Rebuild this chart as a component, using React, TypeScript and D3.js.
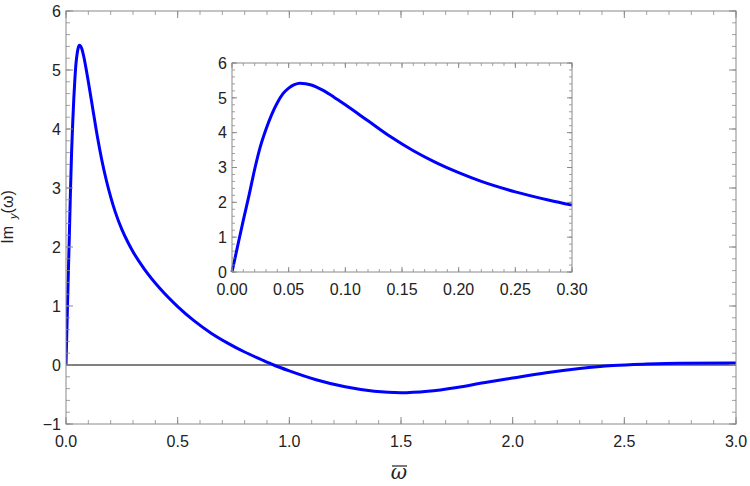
import React from 'react';
import * as d3 from 'd3';

// Im_y(omega) response curve
const omega = [
  0, 0.005, 0.01, 0.015, 0.02, 0.025, 0.03, 0.035, 0.04, 0.045, 0.05, 0.055, 0.06, 0.07,
  0.08, 0.09, 0.1, 0.12, 0.14, 0.16, 0.18, 0.2, 0.22, 0.25, 0.28, 0.3, 0.35, 0.42, 0.5, 0.57,
  0.65, 0.72, 0.8, 0.87, 0.93, 1.0, 1.12, 1.25, 1.38, 1.5, 1.62, 1.75, 1.87, 2.0, 2.15, 2.3,
  2.45, 2.6, 2.75, 3.0,
];
const imY = [
  0, 0.75, 1.49, 2.2, 2.95, 3.6, 4.1, 4.52, 4.86, 5.12, 5.28, 5.38, 5.42, 5.37,
  5.22, 5.02, 4.8, 4.34, 3.88, 3.48, 3.14, 2.85, 2.6, 2.3, 2.06, 1.92, 1.63, 1.3, 0.99, 0.76,
  0.54, 0.38, 0.22, 0.1, 0.0, -0.1, -0.25, -0.37, -0.445, -0.47, -0.445, -0.38, -0.3, -0.22, -0.13, -0.06,
  -0.01, 0.015, 0.03, 0.035,
];

const mainXTicks = [0, 0.5, 1, 1.5, 2, 2.5, 3];
const mainYTicks = [-1, 0, 1, 2, 3, 4, 5, 6];
const insetXTicks = [0, 0.05, 0.1, 0.15, 0.2, 0.25, 0.3];
const insetYTicks = [0, 1, 2, 3, 4, 5, 6];

const FRAME = '#8a8a8a';
const FONT = 'Liberation Sans, Arial, sans-serif';

type Box = { left: number; right: number; top: number; bottom: number };

function Frame({
  x, y, box, xTicks, yTicks, xMinor, yMinor, fmtX, fmtY, major, minor, fontSize,
}: {
  x: d3.ScaleLinear<number, number>; y: d3.ScaleLinear<number, number>; box: Box;
  xTicks: number[]; yTicks: number[]; xMinor: number[]; yMinor: number[];
  fmtX: (v: number) => string; fmtY: (v: number) => string;
  major: number; minor: number; fontSize: number;
}) {
  const { left, right, top, bottom } = box;
  return (
    <g>
      <rect x={left} y={top} width={right - left} height={bottom - top} fill="none" stroke={FRAME} strokeWidth={1} />
      {xMinor.map((v, i) => (
        <g key={'xm' + i} stroke={FRAME} strokeWidth={0.8}>
          <line x1={x(v)} x2={x(v)} y1={bottom} y2={bottom - minor} />
          <line x1={x(v)} x2={x(v)} y1={top} y2={top + minor} />
        </g>
      ))}
      {yMinor.map((v, i) => (
        <g key={'ym' + i} stroke={FRAME} strokeWidth={0.8}>
          <line x1={left} x2={left + minor} y1={y(v)} y2={y(v)} />
          <line x1={right} x2={right - minor} y1={y(v)} y2={y(v)} />
        </g>
      ))}
      {xTicks.map((v, i) => (
        <g key={'x' + i}>
          <line x1={x(v)} x2={x(v)} y1={bottom} y2={bottom - major} stroke={FRAME} />
          <line x1={x(v)} x2={x(v)} y1={top} y2={top + major} stroke={FRAME} />
          <text x={x(v)} y={bottom + fontSize + 7} textAnchor="middle" fontSize={fontSize} fill="#222">
            {fmtX(v)}
          </text>
        </g>
      ))}
      {yTicks.map((v, i) => (
        <g key={'y' + i}>
          <line x1={left} x2={left + major} y1={y(v)} y2={y(v)} stroke={FRAME} />
          <line x1={right} x2={right - major} y1={y(v)} y2={y(v)} stroke={FRAME} />
          <text x={left - 5} y={y(v) + fontSize * 0.36} textAnchor="end" fontSize={fontSize} fill="#222">
            {v < 0 ? '\u2212' + fmtY(-v) : fmtY(v)}
          </text>
        </g>
      ))}
    </g>
  );
}

export default function App() {
  const data = omega.map((w, i) => [w, imY[i]] as [number, number]);

  // main panel
  const main: Box = { left: 66, right: 736, top: 11, bottom: 424 };
  const x = d3.scaleLinear().domain([0, 3]).range([main.left, main.right]);
  const y = d3.scaleLinear().domain([-1, 6]).range([main.bottom, main.top]);
  const line = d3.line<[number, number]>().x((d) => x(d[0])).y((d) => y(d[1])).curve(d3.curveMonotoneX);

  // inset panel
  const inset: Box = { left: 232, right: 572, top: 63, bottom: 272 };
  const xi = d3.scaleLinear().domain([0, 0.3]).range([inset.left, inset.right]);
  const yi = d3.scaleLinear().domain([0, 6]).range([inset.bottom, inset.top]);
  const lineI = d3.line<[number, number]>().x((d) => xi(d[0])).y((d) => yi(d[1])).curve(d3.curveMonotoneX);
  const insetData = data.filter((d) => d[0] <= 0.3);

  const range = (a: number, b: number, s: number) => d3.range(Math.round((b - a) / s) + 1).map((k) => +(a + k * s).toFixed(4));

  return (
    <svg width={750} height={486} style={{ position: 'absolute', left: 0, top: 0, fontFamily: FONT }}>
      <rect width={750} height={486} fill="#fff" />

      <defs>
        <clipPath id="mainClip">
          <rect x={main.left} y={main.top} width={main.right - main.left} height={main.bottom - main.top} />
        </clipPath>
      </defs>

      <line x1={main.left} x2={main.right} y1={y(0)} y2={y(0)} stroke="#000" strokeWidth={1} />
      <path d={line(data) || ''} fill="none" stroke="#0000ff" strokeWidth={3} clipPath="url(#mainClip)" />

      <Frame
        x={x} y={y} box={main}
        xTicks={mainXTicks} yTicks={mainYTicks}
        xMinor={range(0, 3, 0.1)} yMinor={range(-1, 6, 0.2)}
        fmtX={d3.format('.1f')} fmtY={d3.format('d')}
        major={7} minor={4} fontSize={16}
      />

      {/* inset */}
      <rect x={inset.left} y={inset.top} width={inset.right - inset.left} height={inset.bottom - inset.top} fill="#fff" />
      <path d={lineI(insetData) || ''} fill="none" stroke="#0000ff" strokeWidth={3} />
      <Frame
        x={xi} y={yi} box={inset}
        xTicks={insetXTicks} yTicks={insetYTicks}
        xMinor={range(0, 0.3, 0.01)} yMinor={range(0, 6, 0.2)}
        fmtX={d3.format('.2f')} fmtY={d3.format('d')}
        major={5} minor={3} fontSize={16}
      />

      {/* axis labels */}
      <g transform="translate(399,479)">
        <line x1={-7} x2={8} y1={-13} y2={-13} stroke="#222" strokeWidth={1.2} />
        <text textAnchor="middle" fontSize={20} fontStyle="italic" fontFamily="DejaVu Serif, serif" fill="#222">
          ω
        </text>
      </g>
      <text transform="translate(13,217) rotate(-90)" textAnchor="middle" fontSize={16} fill="#222">
        Im
        <tspan dx={7} dy={4} fontSize={11} fontStyle="italic">y</tspan>
        <tspan dy={-4}>(ω)</tspan>
      </text>
    </svg>
  );
}
